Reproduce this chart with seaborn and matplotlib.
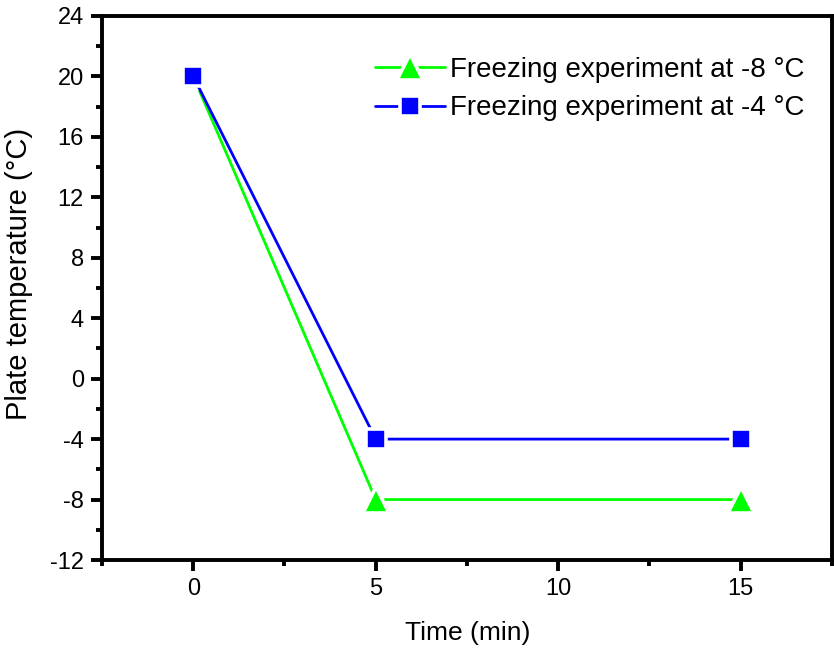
import matplotlib
matplotlib.use("Agg")
import matplotlib.pyplot as plt
import seaborn as sns
import pandas as pd
from matplotlib.ticker import MultipleLocator

time_min = [0, 5, 15]
temp_m8 = [20, -8, -8]
temp_m4 = [20, -4, -4]
labels = ["Freezing experiment at -8 \u00b0C", "Freezing experiment at -4 \u00b0C"]

sns.set_style("white")
plt.rcParams['font.family'] = ['Liberation Sans', 'DejaVu Sans']
plt.rcParams['axes.unicode_minus'] = False
plt.rcParams['text.color'] = 'black'
plt.rcParams['axes.labelcolor'] = 'black'

fig = plt.figure(figsize=(8.34, 6.52), dpi=100)
ax = fig.add_axes([0.1223, 0.1411, 0.8753, 0.8344])

df1 = pd.DataFrame({"t": time_min, "T": temp_m8})
df2 = pd.DataFrame({"t": time_min, "T": temp_m4})

sns.lineplot(data=df1, x="t", y="T", ax=ax, color="#00FF00", marker="^",
             markersize=19, markeredgecolor="white", markeredgewidth=2.6,
             linewidth=2.0, label=labels[0])
sns.lineplot(data=df2, x="t", y="T", ax=ax, color="#0000FF", marker="s",
             markersize=14, markeredgecolor="white", markeredgewidth=2.6,
             linewidth=2.0, label=labels[1])

ax.set_xlim(-2.5, 17.5)
ax.set_ylim(-12, 24)
ax.xaxis.set_major_locator(MultipleLocator(5))
ax.xaxis.set_minor_locator(MultipleLocator(2.5))
ax.yaxis.set_major_locator(MultipleLocator(4))
ax.yaxis.set_minor_locator(MultipleLocator(2))

for s in ax.spines.values():
    s.set_linewidth(2.8)
    s.set_color("black")

ax.tick_params(axis="both", which="major", direction="out", length=8, width=2.8,
               labelsize=17, colors="black", labelcolor="black",
               bottom=True, left=True, pad=5)
ax.tick_params(axis="both", which="minor", direction="out", length=4.5, width=2.8,
               colors="black", bottom=True, left=True)

ax.set_xlabel("Time (min)", fontsize=19)
ax.set_ylabel("Plate temperature (\u00b0C)", fontsize=21)
ax.xaxis.set_label_coords(0.501, -0.112)
ax.yaxis.set_label_coords(-0.094, 0.525)

leg = ax.legend(loc="upper right", bbox_to_anchor=(0.963, 0.925), frameon=False,
                fontsize=20, handlelength=2.5, handletextpad=0.2,
                borderaxespad=0, borderpad=0, labelspacing=0.45)
for t in leg.get_texts():
    t.set_color("black")

fig.savefig("out.png", dpi=100)
